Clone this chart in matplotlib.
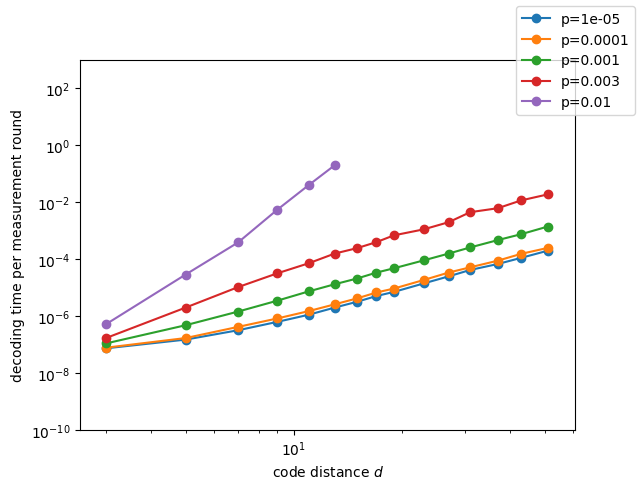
import matplotlib
matplotlib.use("Agg")
import matplotlib.pyplot as plt

d_all = [3, 5, 7, 9, 11, 13, 15, 17, 19, 23, 27, 31, 37, 43, 51]
d_purple = [3, 5, 7, 9, 11, 13]

t_1e5 = [7.4e-8, 1.5e-7, 3.2e-7, 6.3e-7, 1.12e-6, 2.0e-6, 3.2e-6, 5.1e-6, 7.1e-6,
         1.41e-5, 2.5e-5, 4.2e-5, 6.8e-5, 1.12e-4, 2.0e-4]
t_1e4 = [7.8e-8, 1.7e-7, 4.2e-7, 8.3e-7, 1.5e-6, 2.6e-6, 4.2e-6, 6.8e-6, 9.3e-6,
         1.86e-5, 3.4e-5, 5.2e-5, 8.9e-5, 1.55e-4, 2.5e-4]
t_1e3 = [1.1e-7, 4.8e-7, 1.45e-6, 3.5e-6, 7.4e-6, 1.32e-5, 2.1e-5, 3.4e-5, 4.8e-5,
         9.1e-5, 1.58e-4, 2.6e-4, 4.7e-4, 7.6e-4, 1.41e-3]
t_3e3 = [1.7e-7, 2.0e-6, 1.05e-5, 3.2e-5, 7.2e-5, 1.58e-4, 2.45e-4, 4.0e-4, 6.9e-4,
         1.12e-3, 2.0e-3, 4.5e-3, 6.2e-3, 1.17e-2, 1.9e-2]
t_1e2 = [5.2e-7, 2.9e-5, 3.9e-4, 5.5e-3, 4.0e-2, 2.0e-1]

W, H = 641, 489
fig = plt.figure(figsize=(W / 100, H / 100), dpi=100)
ax = fig.add_axes([80 / W, 1 - 431 / H, 495 / W, 370 / H])

ax.plot(d_all, t_1e5, marker='o', label='p=1e-05')
ax.plot(d_all, t_1e4, marker='o', label='p=0.0001')
ax.plot(d_all, t_1e3, marker='o', label='p=0.001')
ax.plot(d_all, t_3e3, marker='o', label='p=0.003')
ax.plot(d_purple, t_1e2, marker='o', label='p=0.01')

ax.set_xscale('log')
ax.set_yscale('log')
ax.set_xlim(2.54, 60.7)
ax.set_ylim(1e-10, 1e3)
ax.set_yticks([1e-10, 1e-8, 1e-6, 1e-4, 1e-2, 1e0, 1e2])
ax.set_xlabel('code distance $d$')
ax.set_ylabel('decoding time per measurement round')

fig.legend(loc='upper right', bbox_to_anchor=(635 / W, 1 - 7 / H), borderaxespad=0)

fig.savefig('out.png', dpi=100)
